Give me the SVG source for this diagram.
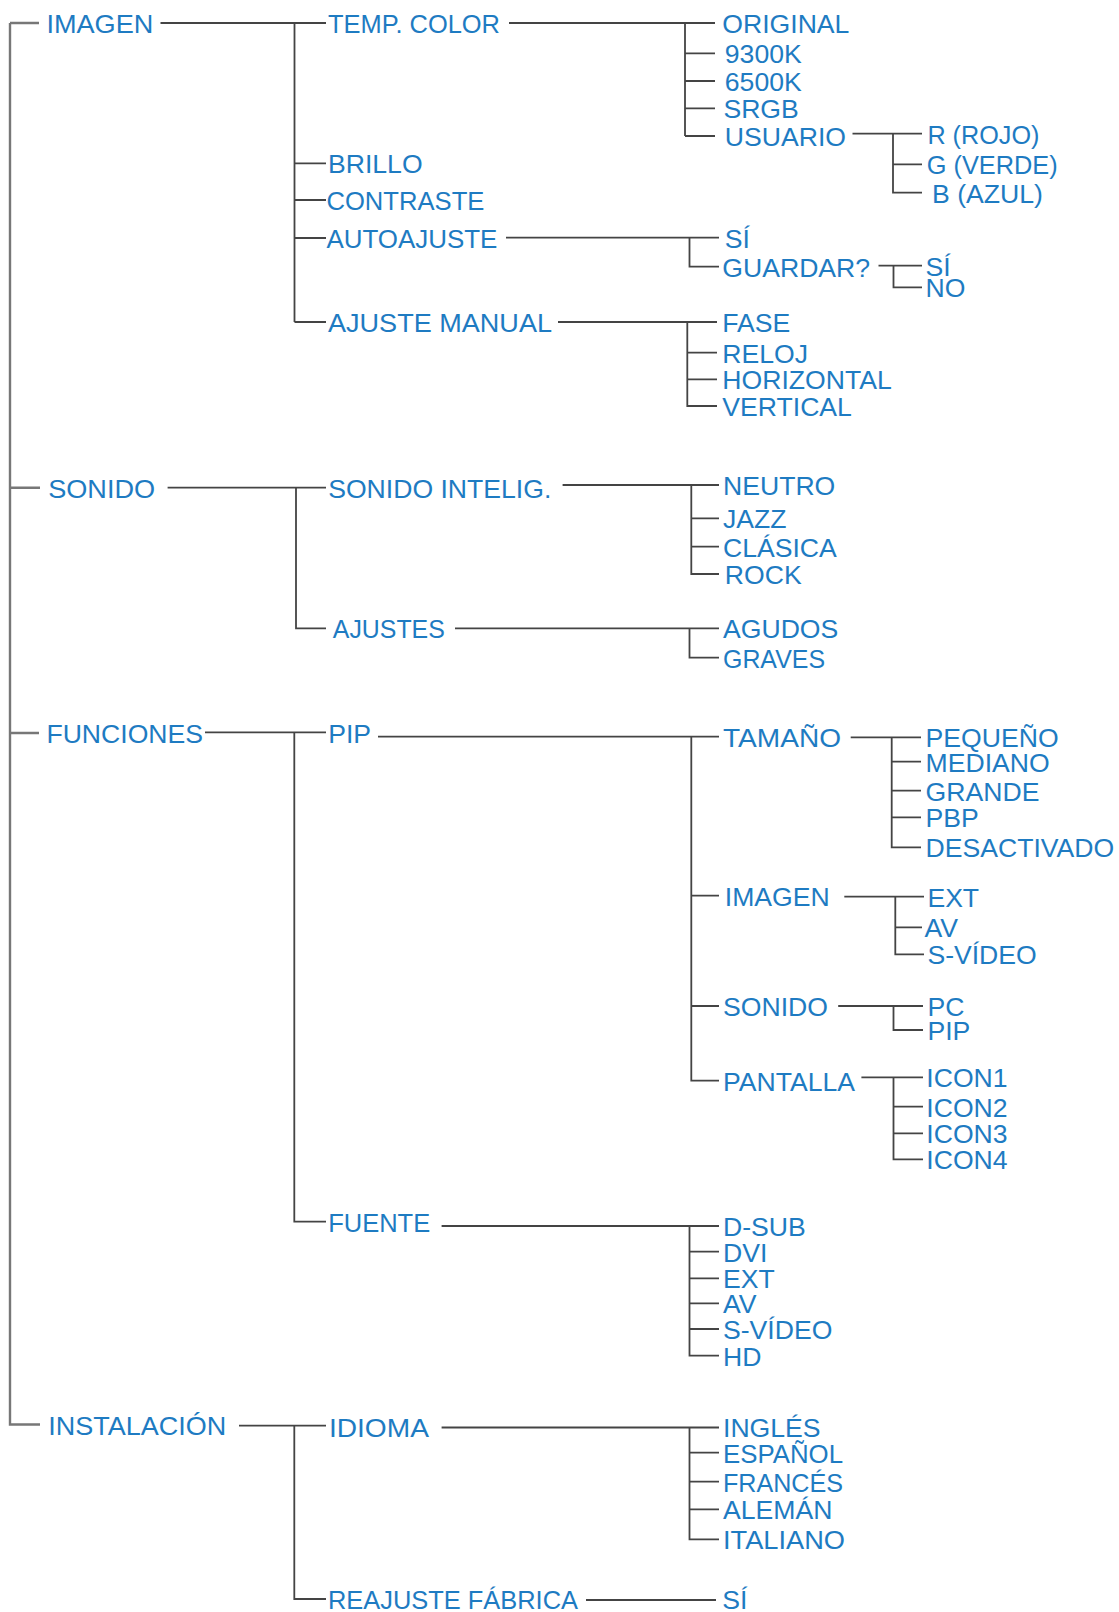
<svg xmlns="http://www.w3.org/2000/svg" width="1119" height="1612" viewBox="0 0 1119 1612">
<style>
.t{font-family:"Liberation Sans",Arial,sans-serif;font-size:26.6px;fill:#1e7bc2}
.c{fill:none;stroke:#444;stroke-width:1.8}
.r{stroke:#777;stroke-width:2.4}
</style>
<rect width="1119" height="1612" fill="#fff"/>
<g id="connectors">
<path class="c r" d="M10 23V1424.5H40M10 23H39M10 487.7H40M10 733H39"/>
<path class="c" d="M160.5 23H326M294.5 23V322M294.5 163.3H326M294.5 200H326M294.5 238H326M294.5 322H326"/>
<path class="c" d="M509 23H715M685 23V136M685 53.3H715M685 81H715M685 108.3H715M685 136H715"/>
<path class="c" d="M852.5 133.7H922M893 133.7V192.7H922M893 164.3H922"/>
<path class="c" d="M506 237.7H719M689.5 237.7V266.7H719"/>
<path class="c" d="M878.5 265.7H922M893.5 265.7V287.3H922"/>
<path class="c" d="M558 322H717M687.3 322V406H717M687.3 352.7H717M687.3 379.3H717"/>
<path class="c" d="M167.6 487.7H326M296 487.7V628.3H326"/>
<path class="c" d="M562.6 485H719M691.3 485V574H719M691.3 518.3H719M691.3 546.7H719"/>
<path class="c" d="M455 628.3H719M689.5 628.3V657.7H719"/>
<path class="c" d="M205 732.3H326M294.3 732.3V1221.7H326"/>
<path class="c" d="M378 736.7H719M691.3 736.7V1080.7H719M691.3 895.7H719M691.3 1006H719"/>
<path class="c" d="M850.7 737.3H921M891.7 737.3V847.3H921M891.7 761.7H921M891.7 790.7H921M891.7 817.3H921"/>
<path class="c" d="M844.3 896.7H924M895.3 896.7V954.3H924M895.3 927.3H922"/>
<path class="c" d="M838.2 1006H923M893.5 1006V1030H923"/>
<path class="c" d="M861.4 1077.3H923M893.5 1077.3V1159.3H923M893.5 1106.7H923M893.5 1133.3H923"/>
<path class="c" d="M441.6 1226H719M689.5 1226V1355.7H719M689.5 1251.7H719M689.5 1278.3H719M689.5 1303.3H719M689.5 1329H719"/>
<path class="c" d="M239 1425.7H326M294.3 1425.7V1599H326"/>
<path class="c" d="M441.6 1427.5H719M689.5 1427.5V1539.3H719M689.5 1452.7H719M689.5 1481.7H719M689.5 1509.3H719"/>
<path class="c" d="M586 1600H716"/>
</g>
<g id="n-imagen"><text class="t" x="46.4" y="33" textLength="107" lengthAdjust="spacingAndGlyphs">IMAGEN</text></g>
<g id="n-sonido"><text class="t" x="48.2" y="497.7" textLength="107" lengthAdjust="spacingAndGlyphs">SONIDO</text></g>
<g id="n-funciones"><text class="t" x="46.4" y="743">FUNCIONES</text></g>
<g id="n-instalacion"><text class="t" x="48.2" y="1435" textLength="178" lengthAdjust="spacingAndGlyphs">INSTALACIÓN</text></g>
<g id="n-tempcolor"><text class="t" x="328" y="33" textLength="172" lengthAdjust="spacingAndGlyphs">TEMP. COLOR</text></g>
<g id="n-brillo"><text class="t" x="328" y="173.3">BRILLO</text></g>
<g id="n-contraste"><text class="t" x="326.4" y="210" textLength="158" lengthAdjust="spacingAndGlyphs">CONTRASTE</text></g>
<g id="n-autoajuste"><text class="t" x="326.4" y="248" textLength="171" lengthAdjust="spacingAndGlyphs">AUTOAJUSTE</text></g>
<g id="n-ajustemanual"><text class="t" x="328" y="332" textLength="224" lengthAdjust="spacingAndGlyphs">AJUSTE MANUAL</text></g>
<g id="n-original"><text class="t" x="722.3" y="33">ORIGINAL</text></g>
<g id="n-9300k"><text class="t" x="724.8" y="63.3">9300K</text></g>
<g id="n-6500k"><text class="t" x="724.8" y="91">6500K</text></g>
<g id="n-srgb"><text class="t" x="723.4" y="118.3">SRGB</text></g>
<g id="n-usuario"><text class="t" x="724.8" y="146">USUARIO</text></g>
<g id="n-rojo"><text class="t" x="927.4" y="143.7" textLength="112" lengthAdjust="spacingAndGlyphs">R (ROJO)</text></g>
<g id="n-verde"><text class="t" x="926.7" y="174.3" textLength="131" lengthAdjust="spacingAndGlyphs">G (VERDE)</text></g>
<g id="n-azul"><text class="t" x="932" y="202.7" textLength="111" lengthAdjust="spacingAndGlyphs">B (AZUL)</text></g>
<g id="n-auto-si"><text class="t" x="724.8" y="247.7">SÍ</text></g>
<g id="n-guardar"><text class="t" x="722.3" y="276.7">GUARDAR?</text></g>
<g id="n-guardar-si"><text class="t" x="925.6" y="275.7">SÍ</text></g>
<g id="n-guardar-no"><text class="t" x="925.6" y="297.3">NO</text></g>
<g id="n-fase"><text class="t" x="722.3" y="332">FASE</text></g>
<g id="n-reloj"><text class="t" x="722.3" y="362.7">RELOJ</text></g>
<g id="n-horizontal"><text class="t" x="722.3" y="389.3">HORIZONTAL</text></g>
<g id="n-vertical"><text class="t" x="722.3" y="416">VERTICAL</text></g>
<g id="n-sonidointelig"><text class="t" x="328.2" y="497.7">SONIDO INTELIG.</text></g>
<g id="n-ajustes"><text class="t" x="332.8" y="638.3" textLength="112" lengthAdjust="spacingAndGlyphs">AJUSTES</text></g>
<g id="n-neutro"><text class="t" x="723" y="495">NEUTRO</text></g>
<g id="n-jazz"><text class="t" x="723" y="528.3">JAZZ</text></g>
<g id="n-clasica"><text class="t" x="723" y="556.7">CLÁSICA</text></g>
<g id="n-rock"><text class="t" x="724.8" y="584">ROCK</text></g>
<g id="n-agudos"><text class="t" x="723" y="638.3">AGUDOS</text></g>
<g id="n-graves"><text class="t" x="723" y="667.7" textLength="102" lengthAdjust="spacingAndGlyphs">GRAVES</text></g>
<g id="n-pip"><text class="t" x="328.2" y="743">PIP</text></g>
<g id="n-fuente"><text class="t" x="328.2" y="1231.7" textLength="102" lengthAdjust="spacingAndGlyphs">FUENTE</text></g>
<g id="n-tamano"><text class="t" x="723" y="746.7" textLength="118" lengthAdjust="spacingAndGlyphs">TAMAÑO</text></g>
<g id="n-pequeno"><text class="t" x="925.6" y="747.3">PEQUEÑO</text></g>
<g id="n-mediano"><text class="t" x="925.6" y="771.7">MEDIANO</text></g>
<g id="n-grande"><text class="t" x="925.6" y="800.7">GRANDE</text></g>
<g id="n-pbp"><text class="t" x="925.6" y="827.3">PBP</text></g>
<g id="n-desactivado"><text class="t" x="925.6" y="857.3">DESACTIVADO</text></g>
<g id="n-pip-imagen"><text class="t" x="724.8" y="905.7">IMAGEN</text></g>
<g id="n-pip-ext"><text class="t" x="927.4" y="906.7">EXT</text></g>
<g id="n-pip-av"><text class="t" x="924.5" y="937.3">AV</text></g>
<g id="n-pip-svideo"><text class="t" x="927.4" y="964.3">S-VÍDEO</text></g>
<g id="n-pip-sonido"><text class="t" x="723" y="1016">SONIDO</text></g>
<g id="n-pc"><text class="t" x="927.4" y="1016">PC</text></g>
<g id="n-pip-pip"><text class="t" x="927.4" y="1040">PIP</text></g>
<g id="n-pantalla"><text class="t" x="723" y="1090.7">PANTALLA</text></g>
<g id="n-icon1"><text class="t" x="926.3" y="1087.3">ICON1</text></g>
<g id="n-icon2"><text class="t" x="926.3" y="1116.7">ICON2</text></g>
<g id="n-icon3"><text class="t" x="926.3" y="1143.3">ICON3</text></g>
<g id="n-icon4"><text class="t" x="926.3" y="1169.3">ICON4</text></g>
<g id="n-dsub"><text class="t" x="723" y="1236">D-SUB</text></g>
<g id="n-dvi"><text class="t" x="723" y="1261.7">DVI</text></g>
<g id="n-f-ext"><text class="t" x="723" y="1288.3">EXT</text></g>
<g id="n-f-av"><text class="t" x="723" y="1313.3">AV</text></g>
<g id="n-f-svideo"><text class="t" x="723" y="1339">S-VÍDEO</text></g>
<g id="n-hd"><text class="t" x="723" y="1365.7">HD</text></g>
<g id="n-idioma"><text class="t" x="328.9" y="1437" textLength="100" lengthAdjust="spacingAndGlyphs">IDIOMA</text></g>
<g id="n-reajuste"><text class="t" x="328" y="1609" textLength="250" lengthAdjust="spacingAndGlyphs">REAJUSTE FÁBRICA</text></g>
<g id="n-ingles"><text class="t" x="723" y="1437.3">INGLÉS</text></g>
<g id="n-espanol"><text class="t" x="723" y="1462.7" textLength="120" lengthAdjust="spacingAndGlyphs">ESPAÑOL</text></g>
<g id="n-frances"><text class="t" x="723" y="1491.7" textLength="120" lengthAdjust="spacingAndGlyphs">FRANCÉS</text></g>
<g id="n-aleman"><text class="t" x="723" y="1519.3">ALEMÁN</text></g>
<g id="n-italiano"><text class="t" x="723" y="1549.3" textLength="122" lengthAdjust="spacingAndGlyphs">ITALIANO</text></g>
<g id="n-reajuste-si"><text class="t" x="722.3" y="1609">SÍ</text></g>
</svg>
